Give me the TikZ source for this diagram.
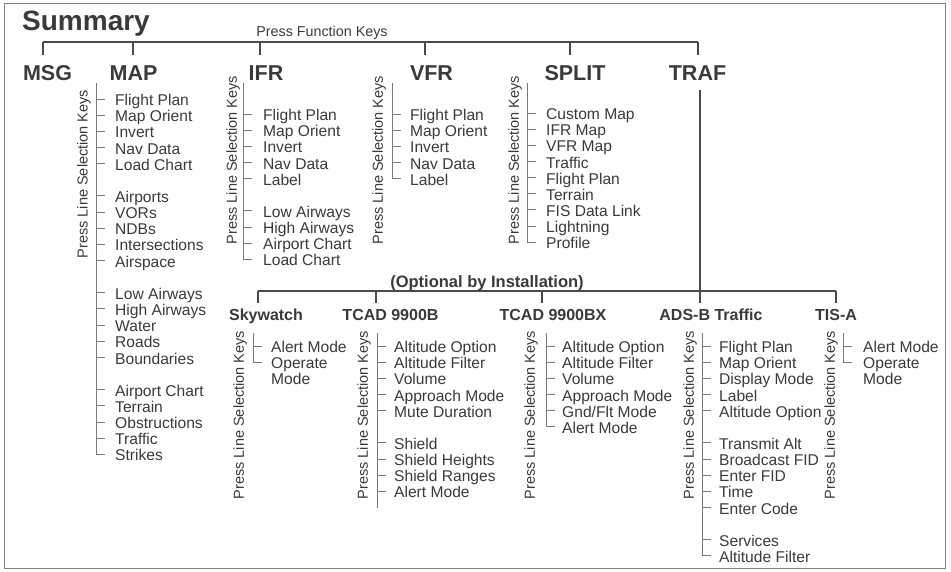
\documentclass[tikz,border=0pt]{standalone}
\usepackage{fontspec}
\setmainfont{Liberation Sans}
\definecolor{txt}{HTML}{3A3A3A}
\definecolor{lstc}{HTML}{7A7A7A}
\definecolor{busc}{HTML}{4A4A4A}
\definecolor{framec}{HTML}{808080}
\newcommand\keylist[6]{% #1 prefix, #2 line x, #3 text x, #4 first centre y, #5 items
  \foreach \itext/\k [count=\i] in {#5} {
    \pgfmathsetmacro\yy{#4+\k*16.15}
    \node[itm] (#1-\i) at (#3,\yy+5.6) {\itext};
    \ifnum\i>0 \draw[lst] (#2,\yy-1) -- (#2+8.5,\yy-1);\fi
  }
  #6
}
\begin{document}
\begin{tikzpicture}[x=1pt,y=-1pt,
  hdr/.style={font=\bfseries\fontsize{21.5}{24}\selectfont, text=txt, inner sep=0, anchor=base},
  subhdr/.style={font=\bfseries\fontsize{16}{19}\selectfont, text=txt, inner sep=0, anchor=base},
  itm/.style={font=\fontsize{15.6}{17}\selectfont, text=txt, inner sep=0, anchor=base west},
  plsk/.style={font=\fontsize{14.5}{16}\selectfont, rotate=90, text=txt, inner sep=0},
  bus/.style={draw=busc, line width=1.1pt},
  lst/.style={draw=lstc, line width=1pt}]
\useasboundingbox (0,0) rectangle (951,571);
\draw[draw=framec, line width=1pt] (4,3) rectangle (945,568);

% title
\node[font=\bfseries\fontsize{28}{30}\selectfont, text=txt, inner sep=0, anchor=base west] (title) at (22,30) {Summary};
\node[font=\fontsize{14.3}{16}\selectfont, text=txt, inner sep=0, anchor=base] (pfk) at (322,36) {Press Function Keys};

% top bus
\coordinate (dMSG) at (43,42);
\coordinate (dMAP) at (133,42);
\coordinate (dIFR) at (260,42);
\coordinate (dVFR) at (425,42);
\coordinate (dSPLIT) at (570,42);
\coordinate (dTRAF) at (698,42);
\draw[bus] (dMSG) -- (dTRAF);
\foreach \d in {dMSG,dMAP,dIFR,dVFR,dSPLIT,dTRAF} \draw[bus] (\d) -- ++(0,13);

% headers
\node[hdr] (msg) at (47.5,80) {MSG};
\node[hdr] (map) at (133.5,80) {MAP};
\node[hdr] (ifr) at (266,80) {IFR};
\node[hdr] (vfr) at (431.5,80) {VFR};
\node[hdr] (split) at (575,80) {SPLIT};
\node[hdr] (traf) at (697.5,80) {TRAF};

% MAP list
\node[plsk] (mapK) at (84,174) {Press Line Selection Keys};
\keylist{map}{96}{115}{100}{Flight Plan/0, Map Orient/1, Invert/2, Nav Data/3, Load Chart/4, Airports/6, VORs/7, NDBs/8, Intersections/9, Airspace/10, Low Airways/12, High Airways/13, Water/14, Roads/15, Boundaries/16, Airport Chart/18, Terrain/19, Obstructions/20, Traffic/21, Strikes/22}{}
\draw[lst] (96,83) -- (96,454.3);

% IFR list
\node[plsk] (ifrK) at (233,160) {Press Line Selection Keys};
\keylist{ifr}{243}{263}{115}{Flight Plan/0, Map Orient/1, Invert/2, Nav Data/3, Label/4, Low Airways/6, High Airways/7, Airport Chart/8, Load Chart/9}{}
\draw[lst] (243,83) -- (243,259.35);

% VFR list
\node[plsk] (vfrK) at (379,160) {Press Line Selection Keys};
\keylist{vfr}{392}{410}{115}{Flight Plan/0, Map Orient/1, Invert/2, Nav Data/3, Label/4}{}
\draw[lst] (392,83) -- (392,178.6);

% SPLIT list
\node[plsk] (splitK) at (515,160) {Press Line Selection Keys};
\keylist{split}{527}{546}{114}{Custom Map/0, IFR Map/1, VFR Map/2, Traffic/3, Flight Plan/4, Terrain/5, FIS Data Link/6, Lightning/7, Profile/8}{}
\draw[lst] (527,83) -- (527,242.2);

% TRAF to optional bus
\coordinate (trafT) at (700,90);
\coordinate (bADS) at (700,291);
\draw[bus] (trafT) -- ++(0,213);
\node[font=\bfseries\fontsize{16.5}{19}\selectfont, text=txt, inner sep=0, anchor=base] (opt) at (487,287) {(Optional by Installation)};
\coordinate (bSKY) at (258,291);
\coordinate (bTB) at (376,291);
\coordinate (bTBX) at (542,291);
\coordinate (bTIS) at (836,291);
\draw[bus] (bSKY) -- (bTIS);
\foreach \d in {bSKY,bTB,bTBX,bTIS} \draw[bus] (\d) -- ++(0,12);

% sub headers
\node[subhdr] (sky) at (266,320) {Skywatch};
\node[subhdr] (tcadb) at (390.5,320) {TCAD 9900B};
\node[subhdr] (tcadbx) at (553,320) {TCAD 9900BX};
\node[subhdr] (adsb) at (711,320) {ADS-B Traffic};
\node[subhdr] (tisa) at (836,320) {TIS-A};

% Skywatch
\node[plsk] (skyK) at (240,415) {Press Line Selection Keys};
\keylist{sky}{253}{271}{347}{Alert Mode/0, Operate/1}{}
\node[itm] (sky-3) at (271,379.3+5.6) {Mode};
\draw[lst] (253,333) -- (253,362.15);

% TCAD 9900B
\node[plsk] (tcadbK) at (364,415) {Press Line Selection Keys};
\keylist{tb}{377}{394}{347}{Altitude Option/0, Altitude Filter/1, Volume/2, Approach Mode/3, Mute Duration/4, Shield/6, Shield Heights/7, Shield Ranges/8, Alert Mode/9}{}
\draw[lst] (377,333) -- (377,508);

% TCAD 9900BX
\node[plsk] (tcadbxK) at (531,415) {Press Line Selection Keys};
\keylist{tbx}{546}{562}{347}{Altitude Option/0, Altitude Filter/1, Volume/2, Approach Mode/3, {Gnd/Flt Mode}/4, Alert Mode/5}{}
\draw[lst] (546,333) -- (546,426.75);

% ADS-B
\node[plsk] (adsbK) at (690,415) {Press Line Selection Keys};
\keylist{ads}{702}{719}{347}{Flight Plan/0, Map Orient/1, Display Mode/2, Label/3, Altitude Option/4, Transmit Alt/6, Broadcast FID/7, Enter FID/8, Time/9, Enter Code/10, Services/12, Altitude Filter/13}{}
\draw[lst] (702,333) -- (702,555.95);

% TIS-A
\node[plsk] (tisK) at (831,415) {Press Line Selection Keys};
\keylist{tis}{843}{863}{347}{Alert Mode/0, Operate/1}{}
\node[itm] (tis-3) at (863,379.3+5.6) {Mode};
\draw[lst] (843,333) -- (843,362.15);
\end{tikzpicture}
\end{document}
